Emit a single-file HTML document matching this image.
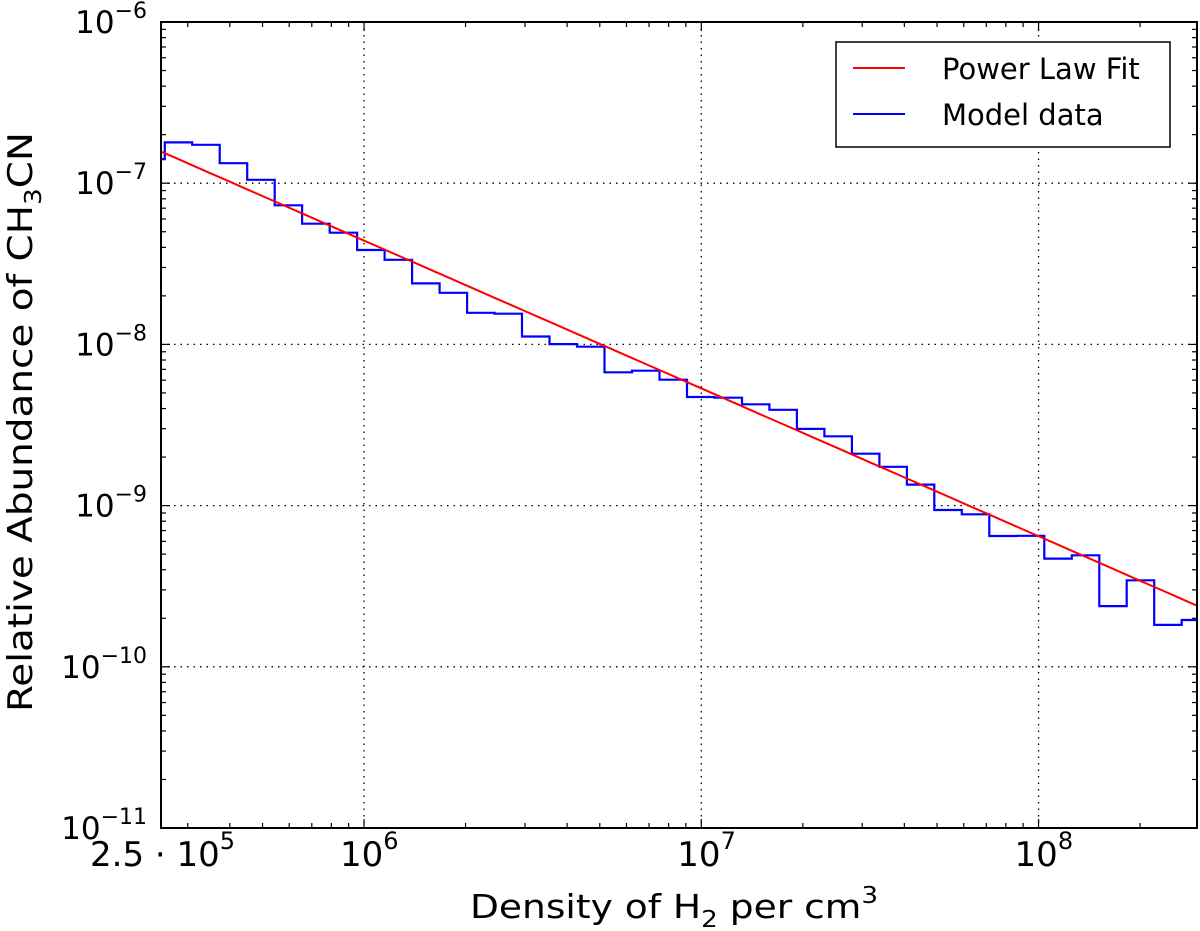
<!DOCTYPE html>
<html><head><meta charset="utf-8"><style>
html,body{margin:0;padding:0;background:#fff;}
svg{display:block;}
</style></head><body>
<svg id="chart" width="1200" height="931" xmlns="http://www.w3.org/2000/svg"></svg>
<script>
const binEdges = [2.126e5,2.565e5,3.094e5,3.733e5,4.503e5,5.433e5,6.553e5,7.907e5,9.539e5,1.151e6,1.388e6,1.675e6,2.021e6,2.438e6,2.941e6,3.548e6,4.280e6,5.164e6,6.230e6,7.516e6,9.068e6,1.094e7,1.320e7,1.592e7,1.921e7,2.317e7,2.796e7,3.373e7,4.069e7,4.909e7,5.923e7,7.145e7,8.620e7,1.040e8,1.255e8,1.514e8,1.826e8,2.203e8,2.658e8,3.21e8];
const modelValues = [1.41e-7,1.79e-7,1.73e-7,1.33e-7,1.05e-7,7.29e-8,5.61e-8,4.93e-8,3.85e-8,3.35e-8,2.39e-8,2.09e-8,1.57e-8,1.55e-8,1.12e-8,1.005e-8,9.67e-9,6.71e-9,6.87e-9,6.04e-9,4.72e-9,4.67e-9,4.25e-9,3.93e-9,2.99e-9,2.69e-9,2.10e-9,1.74e-9,1.35e-9,9.39e-10,8.83e-10,6.48e-10,6.50e-10,4.69e-10,4.92e-10,2.38e-10,3.44e-10,1.82e-10,1.95e-10];
const fitCoef = [1.40e-2];
const fitExp = [-0.917];
const xTickValues = [2.5e5,1e6,1e7,1e8];
const xTickLabels = [["2.5 · 10","5"],["10","6"],["10","7"],["10","8"]];
const yTickValues = [1e-6,1e-7,1e-8,1e-9,1e-10,1e-11];
const yTickLabels = [["10","−6"],["10","−7"],["10","−8"],["10","−9"],["10","−10"],["10","−11"]];
const xDomain = [2.5e5,2.95e8];
const yDomain = [1e-11,1e-6];

const L=161,R=1197,T=22,B=828;
const NS='http://www.w3.org/2000/svg';
const svg=document.getElementById('chart');
const lx0=Math.log10(xDomain[0]),lx1=Math.log10(xDomain[1]);
const ly0=Math.log10(yDomain[0]),ly1=Math.log10(yDomain[1]);
function X(v){return L+(Math.log10(v)-lx0)/(lx1-lx0)*(R-L);}
function Y(v){return B-(Math.log10(v)-ly0)/(ly1-ly0)*(B-T);}
function mk(tag,attrs,parent){const e=document.createElementNS(NS,tag);for(const k in attrs)e.setAttribute(k,attrs[k]);(parent||svg).appendChild(e);return e;}

const defs=mk('defs',{});
const cp=mk('clipPath',{id:'clip'},defs);
mk('rect',{x:L,y:T,width:R-L,height:B-T},cp);

const grid=mk('g',{});


xTickValues.slice(1).forEach(v=>{mk('line',{x1:X(v),x2:X(v),y1:T,y2:B,stroke:'#000','stroke-width':1.3,'stroke-dasharray':'1.5,5'},grid);});
yTickValues.slice(1,-1).forEach(v=>{mk('line',{x1:L,x2:R,y1:Y(v),y2:Y(v),stroke:'#000','stroke-width':1.3,'stroke-dasharray':'1.5,5'},grid);});

const ticks=mk('g',{stroke:'#000'});


for(let e=5;e<=8;e++){for(let m=1;m<10;m++){const v=m*Math.pow(10,e);if(v<xDomain[0]||v>xDomain[1])continue;const len=m===1?9:5;const x=X(v);
mk('line',{x1:x,x2:x,y1:B,y2:B-len,'stroke-width':1.2},ticks);mk('line',{x1:x,x2:x,y1:T,y2:T+len,'stroke-width':1.2},ticks);}}
for(let e=-11;e<=-6;e++){for(let m=1;m<10;m++){const v=m*Math.pow(10,e);if(v>yDomain[1]*1.0001)continue;const len=m===1?9:5;const y=Y(v);
mk('line',{x1:L,x2:L+len,y1:y,y2:y,'stroke-width':1.2},ticks);mk('line',{x1:R,x2:R-len,y1:y,y2:y,'stroke-width':1.2},ticks);}}

let d='';
for(let i=0;i<modelValues.length;i++){const x0=X(binEdges[i]),x1=X(binEdges[i+1]),y=Y(modelValues[i]);d+=(i===0?'M':'L')+x0.toFixed(1)+','+y.toFixed(1)+'L'+x1.toFixed(1)+','+y.toFixed(1);}
const model=mk('path',{d:d,fill:'none',stroke:'#0000ff','stroke-width':2.2,'clip-path':'url(#clip)'});



let fd='';
for(let k=0;k<=60;k++){const lx=lx0+(lx1-lx0)*k/60;const v=Math.pow(10,lx);const y=fitCoef[0]*Math.pow(v,fitExp[0]);fd+=(k===0?'M':'L')+X(v).toFixed(1)+','+Y(y).toFixed(1);}
const fit=mk('path',{d:fd,fill:'none',stroke:'#ff0000','stroke-width':2,'clip-path':'url(#clip)'});



const frame=mk('rect',{x:L,y:T,width:R-L,height:B-T,fill:'none',stroke:'#000','stroke-width':2});



const FF='"DejaVu Sans", "Liberation Sans", sans-serif';
yTickValues.forEach((v,i)=>{const t=mk('text',{x:147,y:Y(v)+11,'text-anchor':'end','font-family':FF,'font-size':31,fill:'#000'});


const a=mk('tspan',{},t);a.textContent=yTickLabels[i][0];const b=mk('tspan',{dy:-15,'font-size':22},t);b.textContent=yTickLabels[i][1];});
xTickValues.forEach((v,i)=>{const first=i===0;const t=mk('text',{x:first?90:X(v)-24,y:866,'text-anchor':'start','font-family':FF,'font-size':34,fill:'#000'});


const a=mk('tspan',{},t);a.textContent=xTickLabels[i][0];const b=mk('tspan',{dy:-17,'font-size':24},t);b.textContent=xTickLabels[i][1];});

const xt=mk('text',{x:470,y:918,'font-family':FF,'font-size':33,fill:'#000',textLength:408,lengthAdjust:'spacingAndGlyphs'});


xt.innerHTML='Density of H<tspan dy="9" font-size="23">2</tspan><tspan dy="-9"> per cm</tspan><tspan dy="-15" font-size="23">3</tspan>';
const yt=mk('text',{x:-290,y:0,'font-family':FF,'font-size':34,fill:'#000',textLength:580,lengthAdjust:'spacingAndGlyphs',transform:'translate(32,422) rotate(-90)'});


yt.innerHTML='Relative Abundance of CH<tspan dy="9" font-size="23">3</tspan><tspan dy="-9">CN</tspan>';

const lg=mk('g',{});


mk('rect',{x:836,y:42,width:334,height:105,fill:'#fff',stroke:'#000','stroke-width':1.5},lg);
const e1=mk('g',{},lg);


mk('line',{x1:853,x2:905,y1:68,y2:68,stroke:'#ff0000','stroke-width':2},e1);
const t1=mk('text',{x:942,y:79,'font-family':FF,'font-size':29,fill:'#000'},e1);t1.textContent='Power Law Fit';
const e2=mk('g',{},lg);


mk('line',{x1:853,x2:905,y1:114,y2:114,stroke:'#0000ff','stroke-width':2},e2);
const t2=mk('text',{x:942,y:125,'font-family':FF,'font-size':29,fill:'#000'},e2);t2.textContent='Model data';
</script>
</body></html>
